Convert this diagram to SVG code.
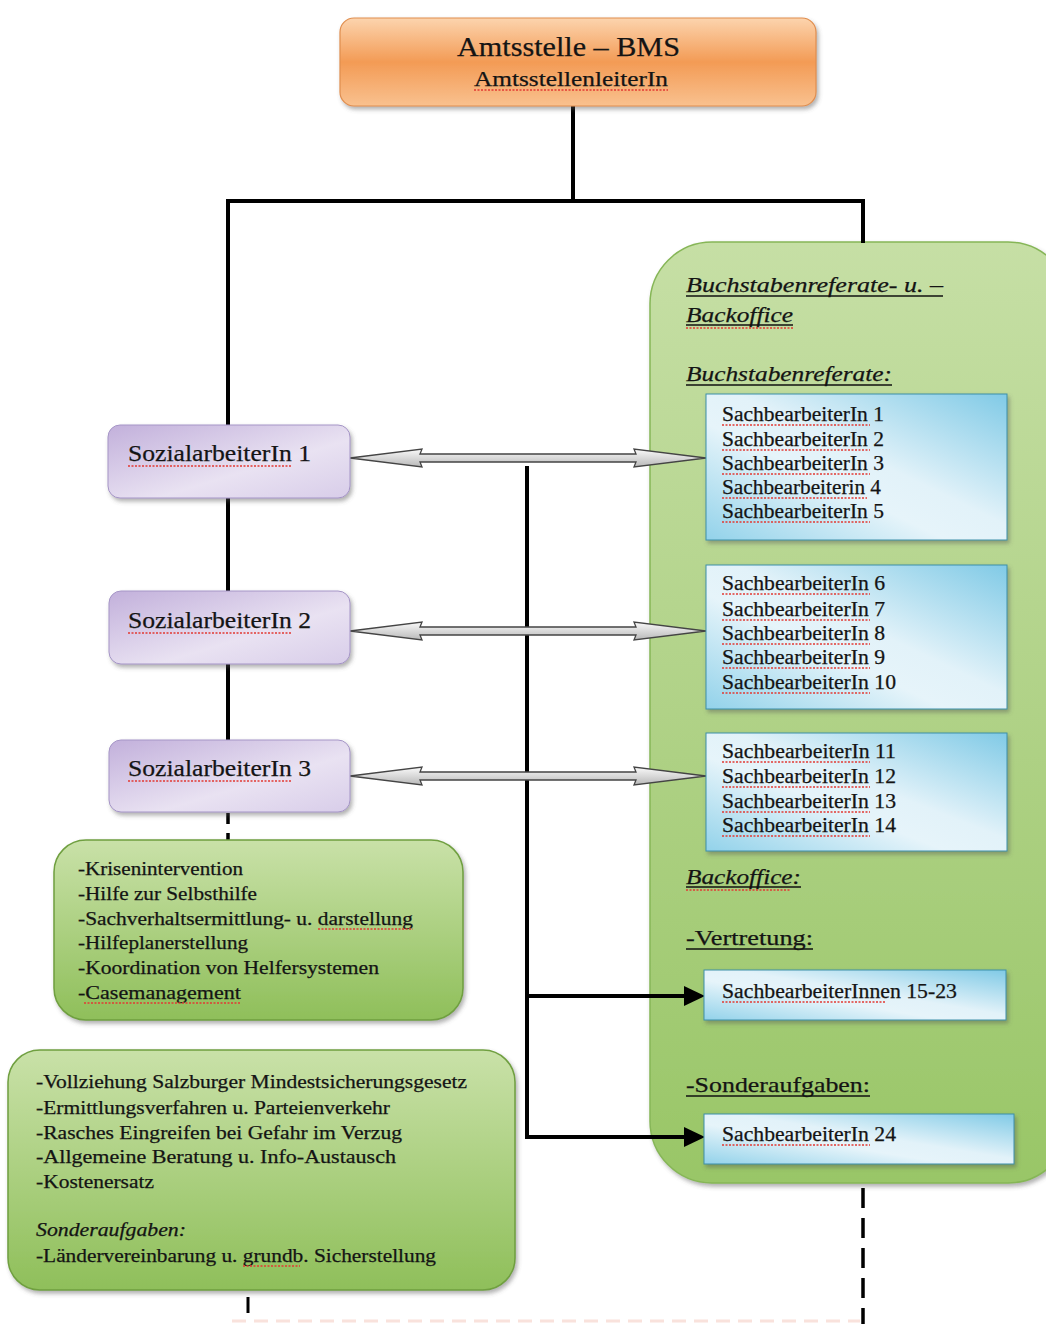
<svg xmlns="http://www.w3.org/2000/svg" width="1046" height="1324" viewBox="0 0 1046 1324">
<defs>
<linearGradient id="gOrange" x1="0" y1="0" x2="0" y2="1">
<stop offset="0" stop-color="#fcd4ae"/><stop offset="0.5" stop-color="#f39b55"/><stop offset="1" stop-color="#f9c18f"/>
</linearGradient>
<linearGradient id="gPurple" x1="0" y1="0" x2="1" y2="1">
<stop offset="0" stop-color="#c2b0db"/><stop offset="0.6" stop-color="#e9e2f2"/><stop offset="1" stop-color="#d8cde9"/>
</linearGradient>
<linearGradient id="gPanel" x1="0" y1="0" x2="0" y2="1">
<stop offset="0" stop-color="#c6dfa5"/><stop offset="0.5" stop-color="#b0d287"/><stop offset="1" stop-color="#99c667"/>
</linearGradient>
<linearGradient id="gGreen" x1="0" y1="0" x2="0" y2="1">
<stop offset="0" stop-color="#c9e1a8"/><stop offset="1" stop-color="#8fbf5a"/>
</linearGradient>
<linearGradient id="gBlue" x1="1" y1="0" x2="0" y2="1">
<stop offset="0" stop-color="#80cae6"/><stop offset="0.45" stop-color="#e2f2f9"/><stop offset="0.6" stop-color="#e6f4fa"/><stop offset="1" stop-color="#92d2ea"/>
</linearGradient>
<linearGradient id="gArrow" x1="0" y1="0" x2="0" y2="1">
<stop offset="0" stop-color="#fafafa"/><stop offset="1" stop-color="#b8b8b8"/>
</linearGradient>
<filter id="sh" x="-10%" y="-10%" width="125%" height="130%">
<feDropShadow dx="2" dy="3" stdDeviation="2" flood-color="#555" flood-opacity="0.45"/>
</filter>
</defs>
<style>
.t{font-family:"Liberation Serif","Times New Roman",serif;fill:#141414;stroke:#141414;stroke-width:0.25}
.it{font-style:italic}
.ln{stroke:#000;stroke-width:4;fill:none}
.ul{stroke:#111;stroke-width:1.6}
.sp{stroke:#e23a33;stroke-width:1.6;stroke-dasharray:2 1.5}
.blue{fill:url(#gBlue);stroke:#3d8fa8;stroke-width:1;filter:url(#sh)}
.purple{fill:url(#gPurple);stroke:#a595c6;stroke-width:1;filter:url(#sh)}
.dbl{fill:url(#gArrow);stroke:#444;stroke-width:1.3}
</style>
<rect width="1046" height="1324" fill="#fff"/>

<g id="panel">
<rect x="650" y="242" width="420" height="941" rx="62" fill="url(#gPanel)" stroke="#86b657" stroke-width="1.5" filter="url(#sh)"/>
<text class="t it" x="686" y="292" font-size="22" textLength="257" lengthAdjust="spacingAndGlyphs">Buchstabenreferate-  u. –</text>
<line class="ul" x1="686" y1="296" x2="943" y2="296"/>
<text class="t it" x="686" y="322" font-size="22" textLength="107" lengthAdjust="spacingAndGlyphs">Backoffice</text>
<line class="ul" x1="686" y1="325" x2="793" y2="325"/>
<line class="sp" x1="686" y1="328" x2="793" y2="328"/>
<text class="t it" x="686" y="381" font-size="22" textLength="206" lengthAdjust="spacingAndGlyphs">Buchstabenreferate:</text>
<line class="ul" x1="686" y1="385" x2="892" y2="385"/>
<text class="t it" x="686" y="884" font-size="22" textLength="115" lengthAdjust="spacingAndGlyphs">Backoffice:</text>
<line class="ul" x1="686" y1="887" x2="801" y2="887"/>
<line class="sp" x1="686" y1="890" x2="790" y2="890"/>
<text class="t" x="686" y="945" font-size="22" textLength="127" lengthAdjust="spacingAndGlyphs">-Vertretung:</text>
<line class="ul" x1="686" y1="949" x2="813" y2="949"/>
<text class="t" x="686" y="1092" font-size="22" textLength="184" lengthAdjust="spacingAndGlyphs">-Sonderaufgaben:</text>
<line class="ul" x1="686" y1="1096" x2="870" y2="1096"/>
</g>

<g id="connectors">
<line class="ln" x1="573" y1="106" x2="573" y2="201"/>
<polyline class="ln" points="228,425 228,201 863,201 863,243"/>
<line class="ln" x1="228" y1="498" x2="228" y2="591"/>
<line class="ln" x1="228" y1="664" x2="228" y2="740"/>
<line x1="228" y1="813" x2="228" y2="840" stroke="#000" stroke-width="3.5" stroke-dasharray="11 9"/>
<line class="ln" x1="527" y1="466" x2="527" y2="1139"/>
<line class="ln" x1="525" y1="996" x2="688" y2="996"/>
<polygon points="684,986 705,996 684,1006" fill="#000"/>
<line class="ln" x1="525" y1="1137" x2="688" y2="1137"/>
<polygon points="684,1127 705,1137 684,1147" fill="#000"/>
<line x1="248" y1="1297" x2="248" y2="1313" stroke="#000" stroke-width="3"/>
<line x1="863" y1="1188" x2="863" y2="1324" stroke="#000" stroke-width="3.5" stroke-dasharray="20 10"/>
<line x1="232" y1="1321" x2="860" y2="1321" stroke="#f9e2dc" stroke-width="3" stroke-dasharray="14 8"/>
<polygon class="dbl" points="350,458 422,449 420,454 636,454 634,449 706,458 634,467 636,462 420,462 422,467"/>
<polygon class="dbl" points="350,631 422,622 420,627 636,627 634,622 706,631 634,640 636,635 420,635 422,640"/>
<polygon class="dbl" points="350,776 422,767 420,772 636,772 634,767 706,776 634,785 636,780 420,780 422,785"/>
</g>

<g id="amtsstelle">
<rect x="340" y="18" width="476" height="88" rx="14" fill="url(#gOrange)" stroke="#e08e4e" stroke-width="1.2" filter="url(#sh)"/>
<text class="t" x="457" y="56" font-size="27" textLength="223" lengthAdjust="spacingAndGlyphs">Amtsstelle – BMS</text>
<text class="t" x="474" y="86" font-size="21" textLength="194" lengthAdjust="spacingAndGlyphs">AmtsstellenleiterIn</text>
<line class="sp" x1="474" y1="90" x2="668" y2="90"/>
</g>

<g id="sozial1">
<rect class="purple" x="108" y="425" width="242" height="73" rx="12"/>
<text class="t" x="128" y="461" font-size="24" textLength="183" lengthAdjust="spacingAndGlyphs">SozialarbeiterIn  1</text>
<line class="sp" x1="128" y1="466" x2="292" y2="466"/>
</g>
<g id="sozial2">
<rect class="purple" x="109" y="591" width="241" height="73" rx="12"/>
<text class="t" x="128" y="628" font-size="24" textLength="183" lengthAdjust="spacingAndGlyphs">SozialarbeiterIn  2</text>
<line class="sp" x1="128" y1="633" x2="292" y2="633"/>
</g>
<g id="sozial3">
<rect class="purple" x="109" y="740" width="241" height="72" rx="12"/>
<text class="t" x="128" y="776" font-size="24" textLength="183" lengthAdjust="spacingAndGlyphs">SozialarbeiterIn  3</text>
<line class="sp" x1="128" y1="781" x2="292" y2="781"/>
</g>

<g id="sb1-5">
<rect class="blue" x="706" y="394" width="301" height="146"/>
<text class="t" x="722" y="421" font-size="20" textLength="162" lengthAdjust="spacingAndGlyphs">SachbearbeiterIn 1</text>
<text class="t" x="722" y="446" font-size="20" textLength="162" lengthAdjust="spacingAndGlyphs">SachbearbeiterIn 2</text>
<text class="t" x="722" y="470" font-size="20" textLength="162" lengthAdjust="spacingAndGlyphs">SachbearbeiterIn 3</text>
<text class="t" x="722" y="494" font-size="20" textLength="159" lengthAdjust="spacingAndGlyphs">Sachbearbeiterin 4</text>
<text class="t" x="722" y="518" font-size="20" textLength="162" lengthAdjust="spacingAndGlyphs">SachbearbeiterIn 5</text>
<line class="sp" x1="722" y1="425" x2="870" y2="425"/>
<line class="sp" x1="722" y1="450" x2="870" y2="450"/>
<line class="sp" x1="722" y1="474" x2="870" y2="474"/>
<line class="sp" x1="722" y1="498" x2="867" y2="498"/>
<line class="sp" x1="722" y1="522" x2="870" y2="522"/>
</g>

<g id="sb6-10">
<rect class="blue" x="706" y="565" width="301" height="144"/>
<text class="t" x="722" y="590" font-size="20" textLength="163" lengthAdjust="spacingAndGlyphs">SachbearbeiterIn 6</text>
<text class="t" x="722" y="616" font-size="20" textLength="163" lengthAdjust="spacingAndGlyphs">SachbearbeiterIn 7</text>
<text class="t" x="722" y="640" font-size="20" textLength="163" lengthAdjust="spacingAndGlyphs">SachbearbeiterIn 8</text>
<text class="t" x="722" y="664" font-size="20" textLength="163" lengthAdjust="spacingAndGlyphs">SachbearbeiterIn 9</text>
<text class="t" x="722" y="689" font-size="20" textLength="174" lengthAdjust="spacingAndGlyphs">SachbearbeiterIn 10</text>
<line class="sp" x1="722" y1="594" x2="870" y2="594"/>
<line class="sp" x1="722" y1="620" x2="870" y2="620"/>
<line class="sp" x1="722" y1="644" x2="870" y2="644"/>
<line class="sp" x1="722" y1="668" x2="870" y2="668"/>
<line class="sp" x1="722" y1="693" x2="870" y2="693"/>
</g>

<g id="sb11-14">
<rect class="blue" x="706" y="733" width="301" height="118"/>
<text class="t" x="722" y="758" font-size="20" textLength="174" lengthAdjust="spacingAndGlyphs">SachbearbeiterIn 11</text>
<text class="t" x="722" y="783" font-size="20" textLength="174" lengthAdjust="spacingAndGlyphs">SachbearbeiterIn 12</text>
<text class="t" x="722" y="808" font-size="20" textLength="174" lengthAdjust="spacingAndGlyphs">SachbearbeiterIn 13</text>
<text class="t" x="722" y="832" font-size="20" textLength="174" lengthAdjust="spacingAndGlyphs">SachbearbeiterIn 14</text>
<line class="sp" x1="722" y1="762" x2="870" y2="762"/>
<line class="sp" x1="722" y1="787" x2="870" y2="787"/>
<line class="sp" x1="722" y1="812" x2="870" y2="812"/>
<line class="sp" x1="722" y1="836" x2="870" y2="836"/>
</g>

<g id="sb15-23">
<rect class="blue" x="704" y="970" width="302" height="50"/>
<text class="t" x="722" y="998" font-size="20" textLength="235" lengthAdjust="spacingAndGlyphs">SachbearbeiterInnen 15-23</text>
<line class="sp" x1="722" y1="1002" x2="886" y2="1002"/>
</g>

<g id="sb24">
<rect class="blue" x="704" y="1114" width="310" height="50"/>
<text class="t" x="722" y="1141" font-size="20" textLength="174" lengthAdjust="spacingAndGlyphs">SachbearbeiterIn 24</text>
<line class="sp" x1="722" y1="1145" x2="870" y2="1145"/>
</g>

<g id="aufgaben-sozial">
<rect x="54" y="840" width="409" height="180" rx="32" fill="url(#gGreen)" stroke="#6f9f3f" stroke-width="1.5" filter="url(#sh)"/>
<text class="t" x="78" y="875" font-size="19" textLength="165" lengthAdjust="spacingAndGlyphs">-Krisenintervention</text>
<text class="t" x="78" y="900" font-size="19" textLength="179" lengthAdjust="spacingAndGlyphs">-Hilfe zur Selbsthilfe</text>
<text class="t" x="78" y="925" font-size="19" textLength="335" lengthAdjust="spacingAndGlyphs">-Sachverhaltsermittlung- u. darstellung</text>
<text class="t" x="78" y="949" font-size="19" textLength="170" lengthAdjust="spacingAndGlyphs">-Hilfeplanerstellung</text>
<text class="t" x="78" y="974" font-size="19" textLength="301" lengthAdjust="spacingAndGlyphs">-Koordination von Helfersystemen</text>
<text class="t" x="78" y="999" font-size="19" textLength="163" lengthAdjust="spacingAndGlyphs">-Casemanagement</text>
<line class="sp" x1="318" y1="929" x2="413" y2="929"/>
<line class="sp" x1="84" y1="1003" x2="241" y2="1003"/>
</g>

<g id="aufgaben-sachbearbeiter">
<rect x="8" y="1050" width="507" height="240" rx="32" fill="url(#gGreen)" stroke="#6f9f3f" stroke-width="1.5" filter="url(#sh)"/>
<text class="t" x="36" y="1088" font-size="19" textLength="431" lengthAdjust="spacingAndGlyphs">-Vollziehung  Salzburger Mindestsicherungsgesetz</text>
<text class="t" x="36" y="1114" font-size="19" textLength="354" lengthAdjust="spacingAndGlyphs">-Ermittlungsverfahren u. Parteienverkehr</text>
<text class="t" x="36" y="1139" font-size="19" textLength="366" lengthAdjust="spacingAndGlyphs">-Rasches Eingreifen  bei Gefahr im Verzug</text>
<text class="t" x="36" y="1163" font-size="19" textLength="360" lengthAdjust="spacingAndGlyphs">-Allgemeine  Beratung  u. Info-Austausch</text>
<text class="t" x="36" y="1188" font-size="19" textLength="118" lengthAdjust="spacingAndGlyphs">-Kostenersatz</text>
<text class="t it" x="36" y="1236" font-size="19" textLength="150" lengthAdjust="spacingAndGlyphs">Sonderaufgaben:</text>
<text class="t" x="36" y="1262" font-size="19" textLength="400" lengthAdjust="spacingAndGlyphs">-Ländervereinbarung u. grundb.  Sicherstellung</text>
<line class="sp" x1="243" y1="1266" x2="300" y2="1266"/>
</g>
</svg>
